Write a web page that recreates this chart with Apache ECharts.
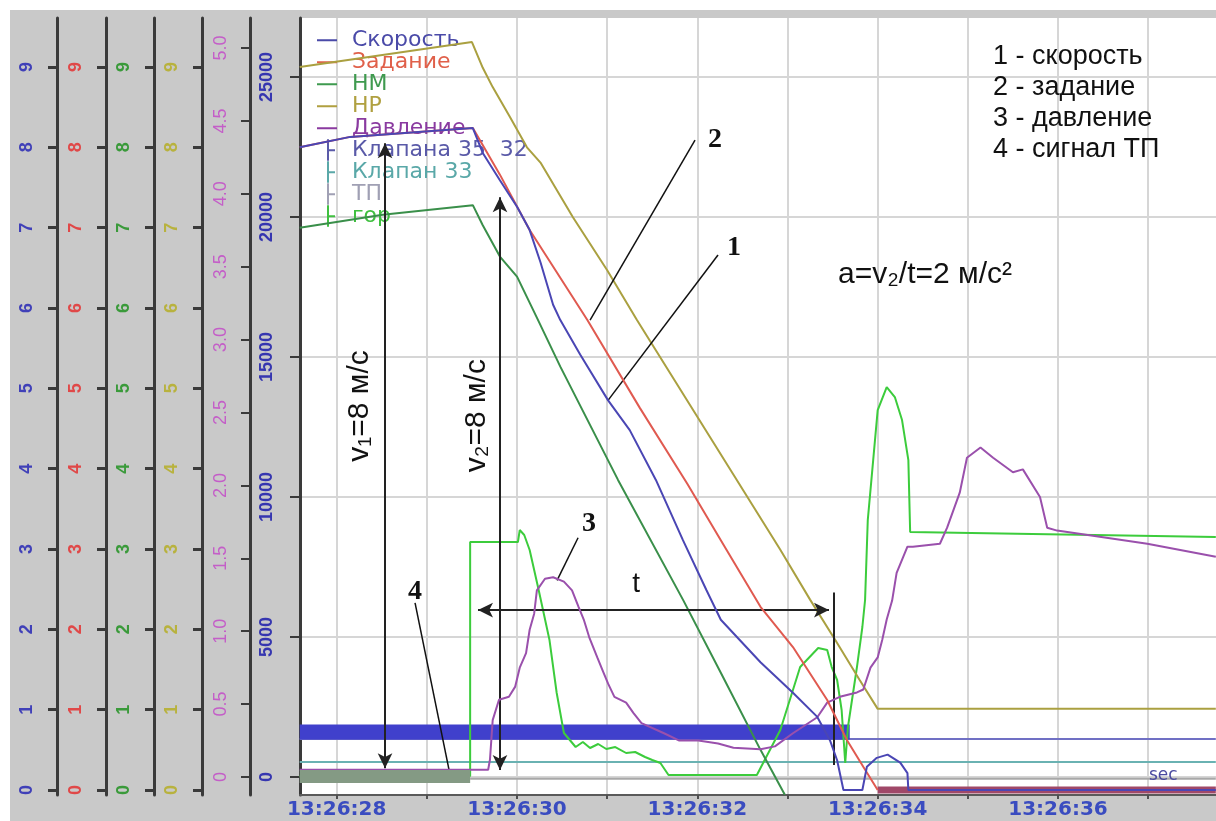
<!DOCTYPE html>
<html>
<head>
<meta charset="utf-8">
<title>Торможение: скорость, задание, давление</title>
<script src="https://cdn.jsdelivr.net/npm/echarts@6.0.0/dist/echarts.min.js"></script>
<style>
html, body { margin: 0; padding: 0; background: #fff; }
#main { width: 1216px; height: 821px; }
</style>
</head>
<body>
<div id="main"></div>
<script>
// шкалы
var timeTicks = [28, 29, 30, 31, 32, 33, 34, 35, 36, 37];
var timeLabels = [28, 30, 32, 34, 36];
var digitTicks = [0, 1, 2, 3, 4, 5, 6, 7, 8, 9];
var pressureTicks = [0, 0.5, 1, 1.5, 2, 2.5, 3, 3.5, 4, 4.5, 5];
var bigTicks = [0, 5000, 10000, 15000, 20000, 25000];

// время в секундах после 13:26:00
// Скорость, м/с
var speed = [[27.59, 8.00], [28.15, 8.13], [29.51, 8.24], [29.62, 7.93], [29.81, 7.59], [30.00, 7.26],
  [30.14, 6.97], [30.26, 6.57], [30.40, 6.04], [30.48, 5.85], [30.70, 5.42], [31.01, 4.85],
  [31.25, 4.48], [31.54, 3.86], [31.84, 3.11], [32.10, 2.49], [32.26, 2.12], [32.70, 1.59],
  [33.06, 1.21], [33.33, 0.91], [33.47, 0.62], [33.55, 0.37], [33.62, 0], [33.83, 0],
  [33.88, 0.29], [33.99, 0.40], [34.11, 0.44], [34.25, 0.34], [34.33, 0.21], [34.34, 0], [37.75, 0]];
// Задание
var task = [[27.59, 8.00], [28.15, 8.13], [29.51, 8.24], [29.81, 7.66], [30.14, 6.97], [30.78, 5.85],
  [31.36, 4.76], [31.89, 3.81], [32.26, 3.11], [32.70, 2.28], [33.06, 1.78], [33.44, 1.12],
  [33.66, 0.62], [33.84, 0.29], [34.00, 0]];
var taskZero = [[34.00, 0], [37.75, 0]];
// НМ
var nm = [[27.59, 7.00], [28.51, 7.16], [29.51, 7.28], [29.62, 7.03], [29.81, 6.64], [30.00, 6.39],
  [30.22, 5.88], [30.48, 5.27], [31.12, 3.86], [31.84, 2.37], [32.26, 1.46], [32.70, 0.50], [32.97, -0.06]];
// НР
var np = [[27.59, 9.00], [29.50, 9.31], [29.62, 8.99], [29.73, 8.75], [29.92, 8.38], [30.11, 8.00],
  [30.26, 7.81], [30.62, 7.13], [31.00, 6.47], [31.33, 5.85], [32.92, 2.99], [33.25, 2.37],
  [33.55, 1.83], [33.80, 1.37], [34.00, 1.01], [37.75, 1.01]];
// Давление
var pressure = [[27.59, 0.05], [29.68, 0.05], [29.70, 0.12], [29.73, 0.39], [29.80, 0.53], [29.91, 0.55],
  [29.98, 0.62], [30.03, 0.75], [30.10, 0.85], [30.14, 1.01], [30.19, 1.12], [30.22, 1.28],
  [30.31, 1.36], [30.40, 1.37], [30.52, 1.34], [30.61, 1.28], [30.68, 1.17], [30.74, 1.08],
  [30.80, 0.96], [30.89, 0.82], [30.95, 0.73], [31.01, 0.64], [31.08, 0.55], [31.21, 0.51],
  [31.29, 0.44], [31.38, 0.37], [31.63, 0.30], [31.80, 0.25], [32.01, 0.25], [32.23, 0.23],
  [32.40, 0.20], [32.70, 0.19], [32.86, 0.21], [33.06, 0.30], [33.33, 0.41], [33.44, 0.51],
  [33.58, 0.55], [33.77, 0.58], [33.84, 0.60], [33.92, 0.75], [34.00, 0.82], [34.05, 0.94],
  [34.10, 1.08], [34.16, 1.21], [34.21, 1.40], [34.33, 1.58], [34.39, 1.58], [34.69, 1.60],
  [34.77, 1.71], [34.91, 1.95], [34.99, 2.19], [35.14, 2.26], [35.28, 2.19], [35.50, 2.09],
  [35.61, 2.11], [35.80, 1.92], [35.88, 1.71], [35.99, 1.69], [36.99, 1.60], [37.75, 1.51]];
// Клапана 35 32
var valve3532 = [[27.59, 1607], [33.69, 1607]];
var valve3532Low = [[27.59, 1357], [37.75, 1357]];
// Клапан 33
var valve33 = [[27.59, 536], [37.75, 536]];
// ТП
var tp = [[27.59, 20], [29.48, 20]];
var tpLow = [[29.48, -60], [37.75, -60]];
// гор
var gor = [[27.59, 36], [29.48, 36], [29.48, 8392], [30.01, 8392], [30.03, 8820], [30.08, 8642],
  [30.14, 8106], [30.24, 6678], [30.36, 4892], [30.44, 3000], [30.52, 1571], [30.65, 1071],
  [30.73, 1250], [30.81, 1036], [30.90, 1179], [30.99, 1000], [31.09, 1071], [31.21, 857],
  [31.31, 893], [31.42, 714], [31.50, 607], [31.59, 500], [31.68, 71], [32.66, 71],
  [32.92, 1678], [33.06, 3107], [33.14, 3928], [33.34, 4607], [33.44, 4535], [33.49, 3928],
  [33.55, 3464], [33.60, 2393], [33.64, 500], [33.67, 1786], [33.77, 3928], [33.83, 5357],
  [33.86, 6321], [33.89, 9178], [33.95, 11320], [34.00, 13106], [34.10, 13927], [34.19, 13570],
  [34.27, 12748], [34.34, 11320], [34.36, 8749], [37.75, 8570]];

var chart = echarts.init(document.getElementById('main'));

var dashIcon = 'path://M0,0h0.1v0.1h-0.1z M0,10h20v2h-20z M19.9,21.5h0.1v0.1h-0.1z';
var bracketIcon = 'path://M0,0h0.1v0.1h-0.1z M10,0h2v21.6h-2z M12,10h6v2h-6z M19.9,21.5h0.1v0.1h-0.1z';

function legendItem(name, icon, color) {
  return { name: name, icon: icon, itemStyle: { color: color }, textStyle: { color: color } };
}

function digitAxis(offset, color) {
  return {
    type: 'value', position: 'left', offset: offset, min: -0.0622, max: 9.61,
    axisLine: { show: true, onZero: false, lineStyle: { color: '#3a3a3a', width: 3 } },
    axisTick: { show: true, customValues: digitTicks, length: 9, lineStyle: { color: '#3a3a3a', width: 3 } },
    axisLabel: { customValues: digitTicks, rotate: 90, color: color, fontSize: 18, fontWeight: 'bold', margin: 21 },
    splitLine: { show: false }
  };
}

function lineSeries(name, data, axis, color, width, z) {
  return {
    name: name, type: 'line', yAxisIndex: axis, data: data, showSymbol: false, silent: true,
    lineStyle: { color: color, width: width }, itemStyle: { color: color }, z: z || 3
  };
}

// стрелки и выноски (в координатах времени / шкалы скорости)
var arrowStyle = { color: '#222', width: 2, type: 'solid' };
var pointerStyle = { color: '#111', width: 1.5, type: 'solid' };
function seg(a, b, arrows, style) {
  var s = arrows ? 'arrow' : 'none';
  return [{ coord: a, symbol: s, lineStyle: style }, { coord: b, symbol: s }];
}
var notes = [
  seg([28.536, 8.05], [28.536, 0.27], true, arrowStyle),
  seg([29.811, 7.38], [29.811, 0.25], true, arrowStyle),
  seg([29.567, 2.24], [33.46, 2.24], true, arrowStyle),
  seg([33.516, 2.46], [33.516, 0.31], false, arrowStyle),
  seg([31.974, 8.09], [30.81, 5.85], false, pointerStyle),
  seg([32.229, 6.66], [31.009, 4.85], false, pointerStyle),
  seg([30.677, 3.14], [30.444, 2.61], false, pointerStyle),
  seg([28.869, 2.33], [29.246, 0.25], false, pointerStyle)
];
var numFont = { fontSize: 28, fontWeight: 'bold', fontFamily: 'Liberation Serif', color: '#111' };
var textFont = { fontSize: 30, fontFamily: 'Liberation Sans', color: '#111' };
function note(name, coord, font, rotate) {
  return {
    name: name, coord: coord, symbol: 'circle', symbolSize: 1, itemStyle: { color: 'rgba(0,0,0,0)' },
    label: Object.assign({ show: true, position: 'inside', formatter: '{b}', rotate: rotate || 0 }, font)
  };
}
var labels = [
  note('1', [32.407, 6.75], numFont),
  note('2', [32.196, 8.10], numFont),
  note('3', [30.798, 3.32], numFont),
  note('4', [28.869, 2.47], numFont),
  note('t', [31.32, 2.56], { fontSize: 28, fontFamily: 'Liberation Sans', color: '#111' }),
  note('v\u2081=8 м/с', [28.259, 4.78], textFont, 90),
  note('v\u2082=8 м/с', [29.556, 4.66], textFont, 90)
];

var speedSeries = lineSeries('Скорость', speed, 5, '#4a46b4', 2, 6);
speedSeries.markLine = { silent: true, animation: false, symbolSize: [11, 15], label: { show: false }, data: notes };
speedSeries.markPoint = { silent: true, animation: false, data: labels };

var option = {
  backgroundColor: '#c9c9c9',
  animation: false,
  grid: { left: 300, right: 0, top: 18, bottom: 26, show: true, backgroundColor: '#fff', borderWidth: 0 },
  legend: {
    left: 317, top: 29, orient: 'vertical', itemGap: 0, itemWidth: 20, itemHeight: 21.6, padding: 0,
    selectedMode: false,
    textStyle: { fontSize: 22, lineHeight: 21.6, fontFamily: 'DejaVu Sans', padding: [0, 0, 0, 10] },
    data: [
      legendItem('Скорость', dashIcon, '#4a4aa8'),
      legendItem('Задание', dashIcon, '#e0604a'),
      legendItem('НМ', dashIcon, '#3f9a4f'),
      legendItem('НР', dashIcon, '#b0a040'),
      legendItem('Давление', dashIcon, '#8a3aa0'),
      legendItem('Клапана 35  32', bracketIcon, '#5a5aa8'),
      legendItem('Клапан 33', bracketIcon, '#5aa8a8'),
      legendItem('ТП', bracketIcon, '#a0a0b4'),
      legendItem('гор', bracketIcon, '#40c040')
    ]
  },
  xAxis: {
    type: 'value', min: 27.593, max: 37.752,
    axisLine: { onZero: false, lineStyle: { color: '#5a5a5a', width: 2 } },
    axisTick: { customValues: timeTicks, length: 4, lineStyle: { color: '#505050', width: 2 } },
    axisLabel: {
      customValues: timeLabels, margin: 5, color: '#3a4cc0', fontSize: 20, fontWeight: 'bold',
      fontFamily: 'DejaVu Sans', formatter: function (v) { return '13:26:' + v; }
    },
    splitLine: { show: true, lineStyle: { color: '#d6d6d6', width: 2 } }
  },
  yAxis: [
    {
      type: 'value', position: 'left', offset: 0, min: -643, max: 27107,
      axisLine: { show: true, onZero: false, lineStyle: { color: '#3a3a3a', width: 3 } },
      axisTick: { show: true, customValues: bigTicks, length: 10, lineStyle: { color: '#3a3a3a', width: 2 } },
      axisLabel: {
        customValues: bigTicks, rotate: 90, color: '#3636b0', fontSize: 18, fontWeight: 'bold', margin: 24,
        formatter: function (v) { return String(v); }
      },
      splitLine: { show: true, lineStyle: { color: '#d6d6d6', width: 2 } }
    },
    {
      type: 'value', position: 'left', offset: 50, min: -0.1235, max: 5.206,
      axisLine: { show: true, onZero: false, lineStyle: { color: '#3a3a3a', width: 3 } },
      axisTick: { show: true, customValues: pressureTicks, length: 9, lineStyle: { color: '#3a3a3a', width: 2 } },
      axisLabel: {
        customValues: pressureTicks, rotate: 90, color: '#c45ec8', fontSize: 18, margin: 20,
        formatter: function (v) { return v === 0 ? '0' : v.toFixed(1); }
      },
      splitLine: { show: false }
    },
    digitAxis(98, '#b8b23e'),
    digitAxis(146, '#3a9a3a'),
    digitAxis(194, '#e04848'),
    digitAxis(243, '#4040b8')
  ],
  series: [
    lineSeries('Клапана 35  32', valve3532Low, 0, '#7070c4', 2, 2),
    lineSeries('Клапана 35  32', valve3532, 0, '#4040cc', 15, 2),
    lineSeries('Клапан 33', valve33, 0, '#6ab2b2', 2, 2),
    lineSeries('ТП', tpLow, 0, '#a8a8a8', 2, 2),
    lineSeries('гор', gor, 0, '#3ccc3c', 2, 3),
    lineSeries('НР', np, 2, '#aaa040', 2, 4),
    lineSeries('НМ', nm, 3, '#3a8f4a', 2, 4),
    lineSeries('Давление', pressure, 1, '#9a50ac', 2, 5),
    lineSeries('ТП', tp, 0, '#849a84', 13, 6),
    lineSeries('Задание', taskZero, 4, '#a04868', 7, 4),
    lineSeries('Задание', task, 4, '#e05a50', 2, 5),
    speedSeries
  ],
  graphic: [
    { type: 'rect', left: 0, top: 0, shape: { width: 1216, height: 10 }, style: { fill: '#fff' }, silent: true },
    { type: 'rect', left: 0, top: 0, shape: { width: 10, height: 821 }, style: { fill: '#fff' }, silent: true },
    {
      type: 'text', left: 993, top: 41, silent: true, z: 10,
      style: {
        text: '1 - скорость\n2 - задание\n3 - давление\n4 - сигнал ТП',
        font: '27px "Liberation Sans", Arial, sans-serif', lineHeight: 31, fill: '#111'
      }
    },
    {
      type: 'text', left: 838, top: 260, silent: true, z: 10,
      style: { text: 'a=v\u2082/t=2 м/с\u00b2', font: '30px "Liberation Sans", Arial, sans-serif', fill: '#111' }
    },
    {
      type: 'text', left: 1149, top: 767, silent: true, z: 10,
      style: { text: 'sec', font: '17px "DejaVu Sans", sans-serif', fill: '#4a4aa0' }
    }
  ]
};

chart.setOption(option);
</script>
</body>
</html>
